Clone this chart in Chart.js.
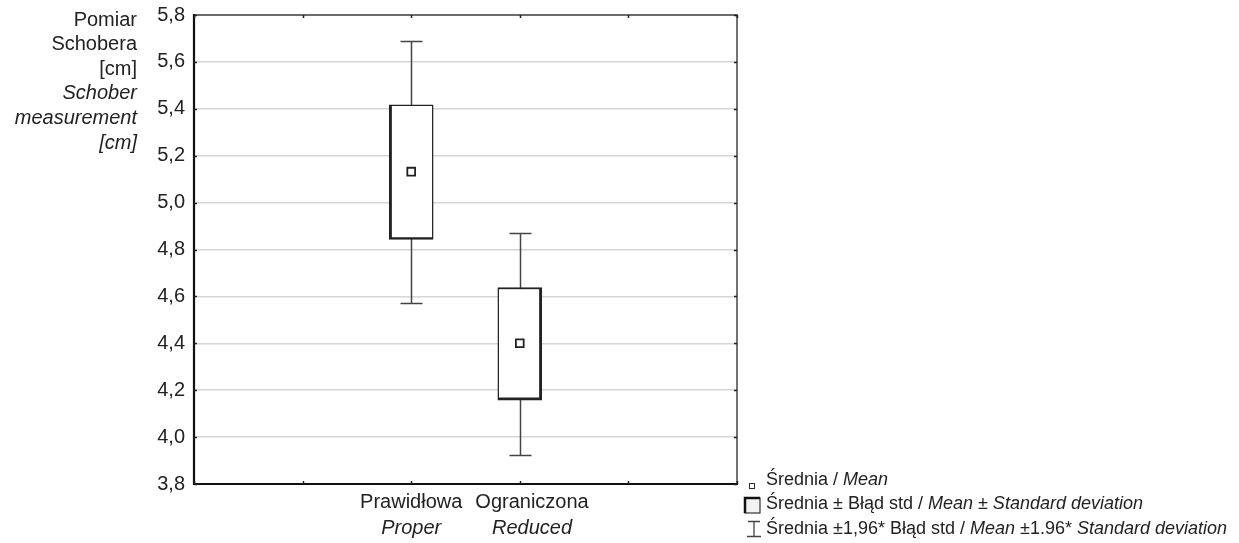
<!DOCTYPE html>
<html>
<head>
<meta charset="utf-8">
<script src="https://cdn.jsdelivr.net/npm/chart.js@4"></script>
<style>
  html, body { margin: 0; padding: 0; background: #fff; }
  #wrap { width: 1239px; height: 543px; }
</style>
</head>
<body>
<div id="wrap"><canvas id="myChart"></canvas></div>
<script>
// data
const groups = ['Prawidłowa', 'Ograniczona'];
const groupsEn = ['Proper', 'Reduced'];
const groupPos = [2, 3];
const means = [5.132, 4.400];
const boxLow = [4.843, 4.157];
const boxHigh = [5.417, 4.638];
const whiskerLow = [4.570, 3.923];
const whiskerHigh = [5.689, 4.872];
const yTitle = ['Pomiar', 'Schobera', '[cm]'];
const yTitleEn = ['Schober', 'measurement', '[cm]'];
const legendRows = [
    [['Średnia / ', false], ['Mean', true]],
    [['Średnia ± Błąd std / ', false], ['Mean ± Standard deviation', true]],
    [['Średnia ±1,96* Błąd std / ', false], ['Mean', true], [' ±1.96* ', false], ['Standard deviation', true]]
];

const FONT = "'Liberation Sans', Arial, sans-serif";
const TEXT = '#222';

const whiskers = {
    id: 'whiskers',
    beforeDatasetsDraw(chart) {
        const ctx = chart.ctx;
        const x = chart.scales.x, y = chart.scales.y;
        ctx.save();
        ctx.strokeStyle = '#444';
        ctx.lineWidth = 1.5;
        groupPos.forEach((g, i) => {
            const px = Math.round(x.getPixelForValue(g)) + 0.5;
            const top = Math.round(y.getPixelForValue(whiskerHigh[i])) + 0.5;
            const bot = Math.round(y.getPixelForValue(whiskerLow[i])) + 0.5;
            ctx.beginPath();
            ctx.moveTo(px, top); ctx.lineTo(px, bot);
            ctx.moveTo(px - 11, top); ctx.lineTo(px + 11, top);
            ctx.moveTo(px - 11, bot); ctx.lineTo(px + 11, bot);
            ctx.stroke();
        });
        ctx.restore();
    }
};

function drawSegments(ctx, segs, x, y, size) {
    segs.forEach(s => {
        ctx.font = (s[1] ? 'italic ' : '') + size + 'px ' + FONT;
        ctx.fillText(s[0], x, y);
        x += ctx.measureText(s[0]).width;
    });
}

const extras = {
    id: 'extras',
    afterDraw(chart) {
        const ctx = chart.ctx;
        const a = chart.chartArea;
        const x = chart.scales.x, y = chart.scales.y;
        ctx.save();

        // frame
        ctx.lineWidth = 1.5;
        ctx.strokeStyle = '#444';
        ctx.beginPath();
        ctx.moveTo(a.left, a.top); ctx.lineTo(a.right, a.top); ctx.lineTo(a.right, a.bottom);
        ctx.stroke();
        ctx.lineWidth = 2.2;
        ctx.strokeStyle = '#111';
        ctx.beginPath();
        ctx.moveTo(a.left, a.top - 1); ctx.lineTo(a.left, a.bottom); ctx.lineTo(a.right + 1, a.bottom);
        ctx.stroke();

        // small inward ticks
        ctx.lineWidth = 1.5;
        ctx.strokeStyle = '#222';
        ctx.beginPath();
        y.ticks.forEach(t => {
            const py = Math.round(y.getPixelForValue(t.value)) + 0.5;
            ctx.moveTo(a.left, py); ctx.lineTo(a.left + 3, py);
            ctx.moveTo(a.right, py); ctx.lineTo(a.right - 3, py);
        });
        x.ticks.forEach(t => {
            const px = Math.round(x.getPixelForValue(t.value)) + 0.5;
            ctx.moveTo(px, a.top); ctx.lineTo(px, a.top + 3);
            ctx.moveTo(px, a.bottom); ctx.lineTo(px, a.bottom - 3);
        });
        ctx.stroke();

        ctx.fillStyle = TEXT;
        ctx.textBaseline = 'middle';

        // x category labels, pushed apart if they would touch
        ctx.textAlign = 'left';
        let lastEnd = -Infinity;
        groups.forEach((g, i) => {
            ctx.font = '20px ' + FONT;
            const w = ctx.measureText(g).width;
            let cx = x.getPixelForValue(groupPos[i]);
            if (cx - w / 2 < lastEnd + 13) cx = lastEnd + 13 + w / 2;
            lastEnd = cx + w / 2;
            ctx.fillText(g, cx - w / 2, a.bottom + 18);
            ctx.font = 'italic 20px ' + FONT;
            const w2 = ctx.measureText(groupsEn[i]).width;
            ctx.fillText(groupsEn[i], cx - w2 / 2, a.bottom + 44);
        });

        // y axis title
        ctx.textAlign = 'right';
        yTitle.concat(yTitleEn).forEach((line, i) => {
            ctx.font = (i >= yTitle.length ? 'italic ' : '') + '20px ' + FONT;
            ctx.fillText(line, 137, 20 + i * 24.6);
        });

        // legend
        ctx.textAlign = 'left';
        const lx = 766;
        const rows = [480, 504, 529];
        ctx.lineWidth = 1;
        ctx.strokeStyle = '#333';
        ctx.strokeRect(749.5, 483.5, 5, 5);

        ctx.fillStyle = '#f2f2f2';
        ctx.fillRect(745, 498, 15, 15);
        ctx.lineWidth = 1.2;
        ctx.strokeStyle = '#333';
        ctx.strokeRect(745, 498, 15, 15);
        ctx.lineWidth = 2.5;
        ctx.strokeStyle = '#111';
        ctx.beginPath();
        ctx.moveTo(745, 513); ctx.lineTo(745, 498); ctx.lineTo(760, 498);
        ctx.stroke();

        ctx.lineWidth = 1.3;
        ctx.strokeStyle = '#444';
        ctx.beginPath();
        ctx.moveTo(748, 521.5); ctx.lineTo(760, 521.5);
        ctx.moveTo(754, 521.5); ctx.lineTo(754, 536.5);
        ctx.moveTo(747, 536.5); ctx.lineTo(761, 536.5);
        ctx.stroke();

        ctx.fillStyle = TEXT;
        legendRows.forEach((r, i) => drawSegments(ctx, r, lx, rows[i], 18));

        ctx.restore();
    }
};

new Chart(document.getElementById('myChart'), {
    data: {
        datasets: [
            {
                type: 'bar',
                data: groupPos.map((g, i) => ({ x: g, y: [boxLow[i], boxHigh[i]] })),
                backgroundColor: '#fff',
                borderColor: '#222',
                borderWidth: [
                    { left: 3, top: 1.5, right: 1.5, bottom: 2.5 },
                    { left: 1.5, top: 2, right: 3, bottom: 3 }
                ],
                borderSkipped: false,
                barThickness: 44,
                order: 2
            },
            {
                type: 'scatter',
                data: groupPos.map((g, i) => ({ x: g, y: means[i] })),
                pointStyle: 'rect',
                radius: 5.5,
                backgroundColor: '#fff',
                borderColor: '#222',
                borderWidth: 1.8,
                order: 1
            }
        ]
    },
    options: {
        responsive: true,
        maintainAspectRatio: false,
        animation: false,
        layout: { padding: { left: 0, top: 15, right: 502, bottom: 0 } },
        plugins: {
            legend: { display: false },
            tooltip: { enabled: false }
        },
        scales: {
            x: {
                type: 'linear',
                min: 0,
                max: 5,
                offset: false,
                grid: { display: false, offset: false },
                border: { display: false },
                ticks: { display: false, stepSize: 1 },
                afterFit: s => { s.height = 59; s.paddingLeft = 0; s.paddingRight = 0; }
            },
            y: {
                min: 3.8,
                max: 5.8,
                grid: { color: '#d6d6d6', lineWidth: 1.5, drawTicks: false },
                border: { display: false },
                ticks: {
                    stepSize: 0.2,
                    padding: 9,
                    color: TEXT,
                    font: { family: FONT, size: 20 },
                    callback: v => v.toFixed(1).replace('.', ',')
                },
                afterFit: s => { s.width = 194; s.paddingTop = 0; s.paddingBottom = 0; }
            }
        }
    },
    plugins: [whiskers, extras]
});
</script>
</body>
</html>
